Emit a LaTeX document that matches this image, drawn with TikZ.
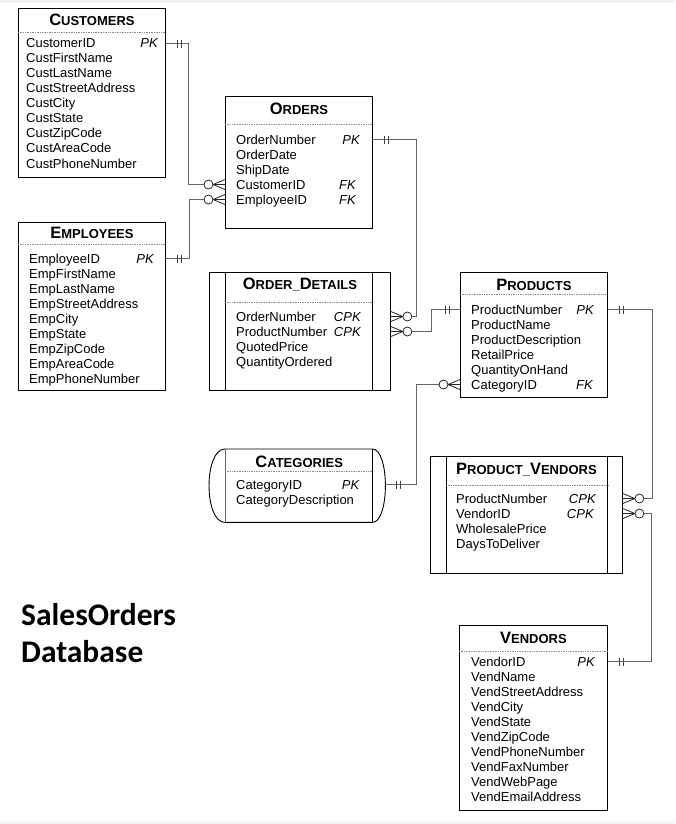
\documentclass[tikz,border=0pt]{standalone}
\usepackage{fontspec}
\setmainfont{Liberation Sans}
\newfontfamily\capfont{Carlito}
\usetikzlibrary{positioning}

\newcommand{\bigc}[1]{{\fontsize{16.5}{18}\selectfont #1}}

\begin{document}
\begin{tikzpicture}[
    x=1pt, y=-1pt,
    tbl/.style={draw, line width=0.9pt, anchor=north west, inner sep=0pt},
    ttl/.style={anchor=base, inner sep=0pt, font=\bfseries\fontsize{13}{14}\selectfont},
    fld/.style={inner sep=0pt, text width=130pt, align=left, text height=11pt, text depth=3.6pt, font=\fontsize{13}{14.6}\selectfont},
    pkey/.style={inner sep=0pt, anchor=base east, font=\itshape\fontsize{13}{14.6}\selectfont},
    sepline/.style={black!45, densely dotted, line width=0.7pt},
    rel/.style={black!60, line width=0.9pt},
    one/.pic={\draw[black!75, line width=0.8pt] (11,-4) -- (11,4) (15,-4) -- (15,4);},
    many/.pic={\draw[black!85, line width=0.8pt] (0,-5) -- (12,0) -- (0,5) (0,0) -- (12,0);
               \draw[black!85, line width=0.8pt, fill=white] (16.5,0) circle[radius=4.5pt];},
]
\useasboundingbox (0,0) rectangle (675,824);
\fill[gray!12] (0,0) rectangle (675,3);
\fill[gray!8] (0,821) rectangle (675,824);

% Customers
\node[tbl, minimum width=147pt, minimum height=169pt] (cust) at (18,8) {};
\node[ttl, yshift=-18pt] (custt) at (cust.north) {\bigc{C}USTOMERS};
\draw[sepline] ([yshift=-24pt]cust.north west) -- ([yshift=-24pt]cust.north east);
\node[fld, anchor=base west] (c1) at ([xshift=8pt, yshift=-40pt]cust.north west) {CustomerID};
\node[fld, below=0pt of c1] (c2) {CustFirstName};
\node[fld, below=0pt of c2] (c3) {CustLastName};
\node[fld, below=0pt of c3] (c4) {CustStreetAddress};
\node[fld, below=0pt of c4] (c5) {CustCity};
\node[fld, below=0pt of c5] (c6) {CustState};
\node[fld, below=0pt of c6] (c7) {CustZipCode};
\node[fld, below=0pt of c7] (c8) {CustAreaCode};
\node[fld, below=0pt of c8] (c9) {CustPhoneNumber};
\node[pkey, xshift=-8pt] (ck) at (cust.east |- c1.base) {PK};

% Orders
\node[tbl, minimum width=147pt, minimum height=132pt] (ord) at (225,96) {};
\node[ttl, yshift=-18pt] (ordt) at (ord.north) {\bigc{O}RDERS};
\draw[sepline] ([yshift=-28pt]ord.north west) -- ([yshift=-28pt]ord.north east);
\node[fld, anchor=base west] (o1) at ([xshift=11pt, yshift=-48pt]ord.north west) {OrderNumber};
\node[fld, below=0pt of o1] (o2) {OrderDate};
\node[fld, below=0pt of o2] (o3) {ShipDate};
\node[fld, below=0pt of o3] (o4) {CustomerID};
\node[fld, below=0pt of o4] (o5) {EmployeeID};
\node[pkey, xshift=-13pt] (ok) at (ord.east |- o1.base) {PK};
\node[pkey, xshift=-17pt] (ofk1) at (ord.east |- o4.base) {FK};
\node[pkey, xshift=-17pt] (ofk2) at (ord.east |- o5.base) {FK};

% Employees
\node[tbl, minimum width=147pt, minimum height=168pt] (emp) at (18,222) {};
\node[ttl, yshift=-16pt] (empt) at (emp.north) {\bigc{E}MPLOYEES};
\draw[sepline] ([yshift=-22pt]emp.north west) -- ([yshift=-22pt]emp.north east);
\node[fld, anchor=base west] (e1) at ([xshift=11pt, yshift=-41pt]emp.north west) {EmployeeID};
\node[fld, below=0pt of e1] (e2) {EmpFirstName};
\node[fld, below=0pt of e2] (e3) {EmpLastName};
\node[fld, below=0pt of e3] (e4) {EmpStreetAddress};
\node[fld, below=0pt of e4] (e5) {EmpCity};
\node[fld, below=0pt of e5] (e6) {EmpState};
\node[fld, below=0pt of e6] (e7) {EmpZipCode};
\node[fld, below=0pt of e7] (e8) {EmpAreaCode};
\node[fld, below=0pt of e8] (e9) {EmpPhoneNumber};
\node[pkey, xshift=-12pt] (ek) at (emp.east |- e1.base) {PK};

% Order_Details
\node[tbl, minimum width=181pt, minimum height=118pt] (od) at (209,272) {};
\draw[line width=0.9pt] ([xshift=16pt]od.north west) -- ([xshift=16pt]od.south west)
    ([xshift=-18pt]od.north east) -- ([xshift=-18pt]od.south east);
\node[ttl, yshift=-17pt] (odt) at (od.north) {\bigc{O}RDER\_\bigc{D}ETAILS};
\draw[sepline] ([xshift=16pt, yshift=-30pt]od.north west) -- ([xshift=-18pt, yshift=-30pt]od.north east);
\node[fld, anchor=base west] (d1) at ([xshift=27pt, yshift=-49pt]od.north west) {OrderNumber};
\node[fld, below=0pt of d1] (d2) {ProductNumber};
\node[fld, below=0pt of d2] (d3) {QuotedPrice};
\node[fld, below=0pt of d3] (d4) {QuantityOrdered};
\node[pkey, xshift=-30pt] (odk1) at (od.east |- d1.base) {CPK};
\node[pkey, xshift=-30pt] (odk2) at (od.east |- d2.base) {CPK};

% Products
\node[tbl, minimum width=147pt, minimum height=125pt] (prod) at (460,272) {};
\node[ttl, yshift=-18pt] (prodt) at (prod.north) {\bigc{P}RODUCTS};
\draw[sepline] ([yshift=-22pt]prod.north west) -- ([yshift=-22pt]prod.north east);
\node[fld, anchor=base west] (p1) at ([xshift=11pt, yshift=-42pt]prod.north west) {ProductNumber};
\node[fld, below=0pt of p1] (p2) {ProductName};
\node[fld, below=0pt of p2] (p3) {ProductDescription};
\node[fld, below=0pt of p3] (p4) {RetailPrice};
\node[fld, below=0pt of p4] (p5) {QuantityOnHand};
\node[fld, below=0pt of p5] (p6) {CategoryID};
\node[pkey, xshift=-14pt] (pk) at (prod.east |- p1.base) {PK};
\node[pkey, xshift=-15pt] (pfk) at (prod.east |- p6.base) {FK};

% Categories
\node[inner sep=0pt, anchor=north west, minimum width=176pt, minimum height=73pt] (cat) at (209,449) {};
\draw[line width=0.9pt] ([xshift=16pt]cat.north west) -- ([xshift=-13pt]cat.north east)
    .. controls ([xshift=4.3pt]cat.north east) and ([xshift=4.3pt]cat.south east) .. ([xshift=-13pt]cat.south east)
    -- ([xshift=16pt]cat.south west)
    .. controls ([xshift=-5.3pt]cat.south west) and ([xshift=-5.3pt]cat.north west) .. cycle;
\draw[black!60] ([xshift=16pt]cat.north west) -- ([xshift=16pt]cat.south west);
\draw[line width=0.9pt] ([xshift=-13pt]cat.north east) -- ([xshift=-13pt]cat.south east);
\node[ttl, xshift=2pt, yshift=-18pt] (catt) at (cat.north) {\bigc{C}ATEGORIES};
\draw[sepline] ([xshift=16pt, yshift=-22pt]cat.north west) -- ([xshift=-13pt, yshift=-22pt]cat.north east);
\node[fld, anchor=base west] (g1) at ([xshift=27pt, yshift=-40pt]cat.north west) {CategoryID};
\node[fld, below=0pt of g1] (g2) {CategoryDescription};
\node[pkey, xshift=-26pt] (catk) at (cat.east |- g1.base) {PK};

% Product_Vendors
\node[tbl, minimum width=192pt, minimum height=117pt] (pv) at (430,456) {};
\draw[line width=0.9pt] ([xshift=16pt]pv.north west) -- ([xshift=16pt]pv.south west)
    ([xshift=-15pt]pv.north east) -- ([xshift=-15pt]pv.south east);
\node[ttl, yshift=-18pt] (pvt) at (pv.north) {\bigc{P}RODUCT\_\bigc{V}ENDORS};
\draw[sepline] ([xshift=16pt, yshift=-29pt]pv.north west) -- ([xshift=-15pt, yshift=-29pt]pv.north east);
\node[fld, anchor=base west] (v1) at ([xshift=26pt, yshift=-47pt]pv.north west) {ProductNumber};
\node[fld, below=0pt of v1] (v2) {VendorID};
\node[fld, below=0pt of v2] (v3) {WholesalePrice};
\node[fld, below=0pt of v3] (v4) {DaysToDeliver};
\node[pkey, xshift=-27pt] (pvk1) at (pv.east |- v1.base) {CPK};
\node[pkey, xshift=-29pt] (pvk2) at (pv.east |- v2.base) {CPK};

% Vendors
\node[tbl, minimum width=148pt, minimum height=185pt] (vend) at (459,625) {};
\node[ttl, yshift=-18pt] (vendt) at (vend.north) {\bigc{V}ENDORS};
\draw[sepline] ([yshift=-26pt]vend.north west) -- ([yshift=-26pt]vend.north east);
\node[fld, anchor=base west] (n1) at ([xshift=12pt, yshift=-41pt]vend.north west) {VendorID};
\node[fld, below=0pt of n1] (n2) {VendName};
\node[fld, below=0pt of n2] (n3) {VendStreetAddress};
\node[fld, below=0pt of n3] (n4) {VendCity};
\node[fld, below=0pt of n4] (n5) {VendState};
\node[fld, below=0pt of n5] (n6) {VendZipCode};
\node[fld, below=0pt of n6] (n7) {VendPhoneNumber};
\node[fld, below=0pt of n7] (n8) {VendFaxNumber};
\node[fld, below=0pt of n8] (n9) {VendWebPage};
\node[fld, below=0pt of n9] (n10) {VendEmailAddress};
\node[pkey, xshift=-13pt] (vk) at (vend.east |- n1.base) {PK};

% Title
\node[inner sep=0pt, anchor=base west, font=\capfont\bfseries\fontsize{31.5}{37}\selectfont] (db1) at (21,625) {SalesOrders};
\node[inner sep=0pt, anchor=base west, font=\capfont\bfseries\fontsize{31.5}{37}\selectfont] (db2) at (21,662) {Database};

% Relationships
\draw[rel] (cust.east |- ck) -- ++(23,0) |- (ord.west |- ofk1);
\draw[rel] (emp.east |- ek) -- ++(24,0) |- (ord.west |- ofk2);
\draw[rel] (ord.east |- ok) -- ++(44,0) |- (od.east |- odk1);
\draw[rel] (prod.west |- pk) -- ++(-29,0) |- (od.east |- odk2);
\draw[rel] (cat.east |- catk) -- ++(31,0) |- (prod.west |- pfk);
\draw[rel] (prod.east |- pk) -- ++(45,0) |- (pv.east |- pvk1);
\draw[rel] (vend.east |- vk) -- ++(44,0) |- (pv.east |- pvk2);

% Ends
\pic at (cust.east |- ck) {one};
\pic[rotate=180] at (ord.west |- ofk1) {many};
\pic at (emp.east |- ek) {one};
\pic[rotate=180] at (ord.west |- ofk2) {many};
\pic at (ord.east |- ok) {one};
\pic at (od.east |- odk1) {many};
\pic[rotate=180] at (prod.west |- pk) {one};
\pic at (od.east |- odk2) {many};
\pic at (cat.east |- catk) {one};
\pic[rotate=180] at (prod.west |- pfk) {many};
\pic at (prod.east |- pk) {one};
\pic at (pv.east |- pvk1) {many};
\pic at (vend.east |- vk) {one};
\pic at (pv.east |- pvk2) {many};

\end{tikzpicture}
\end{document}
